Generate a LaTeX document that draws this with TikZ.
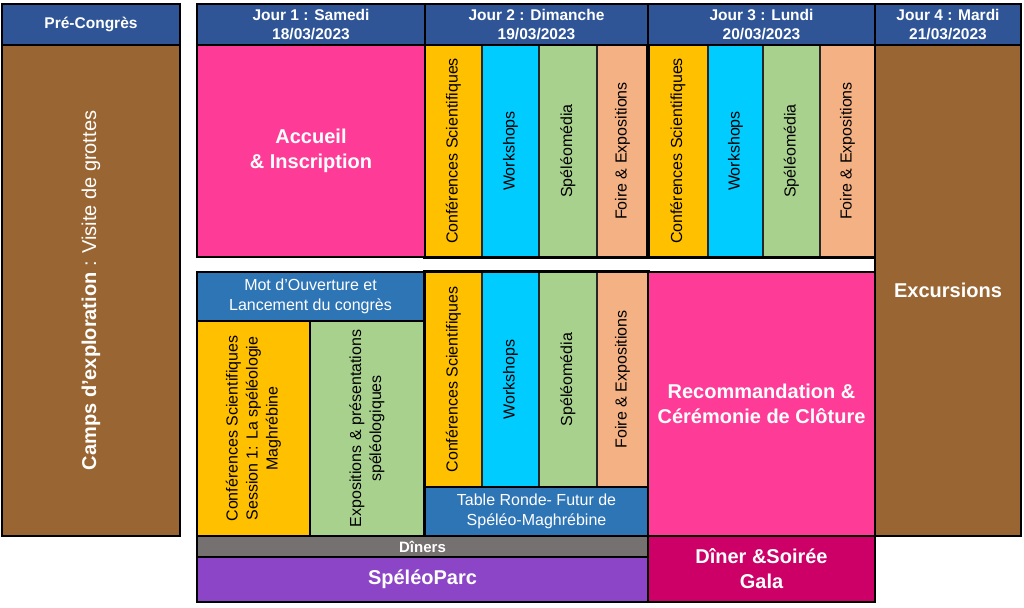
\documentclass[tikz,border=0pt]{standalone}
\usepackage{fontspec}
\setmainfont{Liberation Sans}
\definecolor{hdrblue}{HTML}{2F5597}
\definecolor{brownc}{HTML}{996633}
\definecolor{pinkc}{HTML}{FF3B98}
\definecolor{yellowc}{HTML}{FFC000}
\definecolor{cyanc}{HTML}{00CCFF}
\definecolor{greenc}{HTML}{A9D18E}
\definecolor{salmonc}{HTML}{F4B183}
\definecolor{midblue}{HTML}{2E75B6}
\definecolor{grayc}{HTML}{767171}
\definecolor{purplec}{HTML}{8B45C6}
\definecolor{galapink}{HTML}{CC0066}

\begin{document}
\begin{tikzpicture}[ x=1pt, y=-1pt, cell/.style={draw=black, line width=2pt,
      inner sep=0pt, fill=#1}, sub/.style={draw=black!85, line width=1.2pt,
      inner sep=0pt, fill=#1}, frame/.style={draw=black, line width=2.6pt},
      hdr/.style={cell=hdrblue, minimum height=41, text=white, align=center,
      font=\bfseries\fontsize{15.5}{19}\selectfont},
      big/.style={text=white, align=center,
      font=\bfseries\fontsize{20}{25}\selectfont},
      small/.style={align=center, font=\fontsize{16}{20}\selectfont} ]

    \useasboundingbox (0,0) rectangle (1024,607);

    % Sessions paralleles, jour 2 et jour 3
    \foreach \x/\w/\col/\txt [count=\i] in {453.5/57/yellowc/Conférences
    Scientifiques, 510.5/57/cyanc/Workshops, 568/58/greenc/Spéléomédia,
    622.5/51/salmonc/Foire \& Expositions} { \node[sub=\col, small, minimum
    width=\w, minimum height=212] (dimA-\i) at (\x,151) {\rotatebox{90}{\txt}};
    \node[sub=\col, small, minimum width=\w, minimum height=215] (dimB-\i) at
    (\x,379.5) {\rotatebox{90}{\txt}}; }
    \foreach \x/\w/\col/\txt [count=\i] in {678/60/yellowc/Conférences
    Scientifiques, 735.5/55/cyanc/Workshops, 791.5/57/greenc/Spéléomédia,
    847.5/55/salmonc/Foire \& Expositions} \node[sub=\col, small, minimum
    width=\w, minimum height=212] (lun-\i) at (\x,151) {\rotatebox{90}{\txt}};

    \draw[frame] (dimA-1.north west) rectangle (dimA-4.south east);
    \draw[frame] (dimB-1.north west) rectangle (dimB-4.south east);
    \draw[frame] (lun-1.north west) rectangle (lun-4.south east);

    % Pre-congres
    \node[hdr, minimum width=178] (pre) at (91,24.5) {\raisebox{-2pt}{Pré-Congrès}};
    \node[cell=brownc, minimum width=178, minimum height=491, text=white,
      font=\fontsize{20}{24}\selectfont] (camps) at (91,290.5)
      {\rotatebox{90}{\textbf{Camps d'exploration} : Visite de grottes}};

    % Jours
    \node[hdr, minimum width=228] (jour1) at (311,24.5) {Jour 1 : Samedi\\18/03/2023};
    \node[hdr, minimum width=223] (jour2) at (536.5,24.5) {Jour 2 : Dimanche\\19/03/2023};
    \node[hdr, minimum width=227] (jour3) at (761.5,24.5) {Jour 3 : Lundi\\20/03/2023};
    \node[hdr, minimum width=146] (jour4) at (948,24.5) {Jour 4 : Mardi\\21/03/2023};

    % Jour 1
    \node[cell=pinkc, big, minimum width=228, minimum height=212] (accueil) at
    (311,151) {Accueil\\\& Inscription};
    \node[cell=midblue, small, text=white, minimum width=227, minimum
    height=49] (ouverture) at (310.5,296.5) {Mot d'Ouverture et\\Lancement du
    congrès};
    \node[cell=yellowc, small, minimum width=113, minimum height=215] (session)
    at (253.5,428.5) {\rotatebox{90}{\begin{tabular}{@{}c@{}}Conférences
    Scientifiques\\Session 1: La spéléologie\\Maghrébine\end{tabular}}};
    \node[cell=greenc, small, minimum width=114, minimum height=215] (expo) at
    (367,428.5) {\rotatebox{90}{\begin{tabular}{@{}c@{}}Expositions \&
    présentations\\spéléologiques\end{tabular}}};

    % Jour 2 et 3, bas
    \node[cell=midblue, small, text=white, minimum width=223, minimum
    height=49] (table) at (536.5,511.5) {Table Ronde- Futur de\\Spéléo-Maghrébine};
    \node[cell=pinkc, big, minimum width=227, minimum height=264] (cloture) at
    (761.5,404) {Recommandation \&\\Cérémonie de Clôture};

    % Jour 4
    \node[cell=brownc, big, minimum width=146, minimum height=491] (excursions)
    at (948,290.5) {Excursions};

    % Soirees
    \node[cell=grayc, text=white, font=\bfseries\fontsize{15}{16}\selectfont,
      minimum width=451, minimum height=21] (diners) at (422.5,546.5) {Dîners};
    \node[cell=purplec, big, minimum width=451, minimum height=45] (parc) at
    (422.5,579.5) {SpéléoParc};
    \node[cell=galapink, big, minimum width=227, minimum height=66] (gala) at
    (761.5,569) {Dîner \&Soirée\\Gala};

\end{tikzpicture}
\end{document}
